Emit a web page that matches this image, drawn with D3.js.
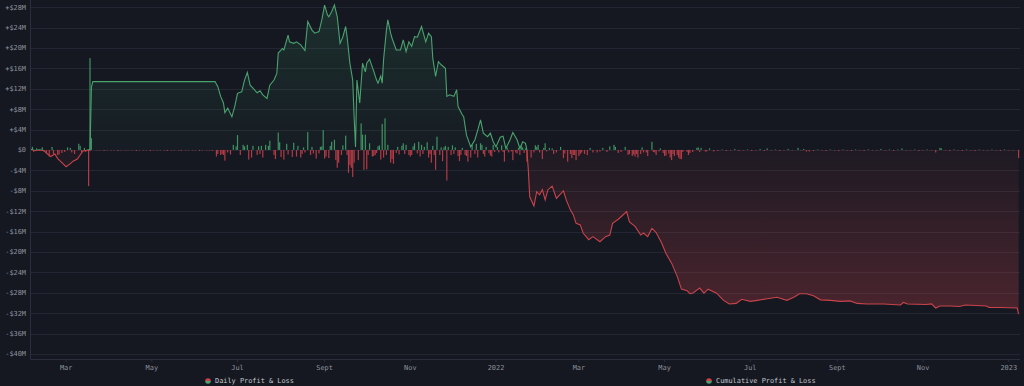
<!DOCTYPE html>
<html><head><meta charset="utf-8">
<script src="https://cdn.jsdelivr.net/npm/d3@7"></script>
<style>
html,body{margin:0;padding:0;background:#151821;}
svg{display:block;}
text{font-family:"DejaVu Sans Mono","Liberation Mono",monospace;}
</style></head><body>
<svg id="chart" width="1024" height="386"></svg>
<script>
// day offsets counted from 2021-02-01, values in $M
const startDate = new Date(2021, 1, 1);
const domainDays = [3, 707];
const yDomain = [-41, 29.4];

const cumulativePnl = [
 [3,0.1],[6,-0.1],[9,0.0],[12,-0.1],[14,-0.6],[17,-1.3],[20,-0.8],[22,-1.7],[25,-2.5],[28,-3.3],
 [31,-2.7],[33,-2.2],[36,-1.8],[38,-1.0],[40,-0.2],[42,-0.1],[44,0.0],[45,-0.1],[46,12.3],[47,13.4],
 [134,13.4],[136,12.4],[138,10.5],[140,9.2],[141,7.3],[143,8.2],[146,6.5],[148,8.5],[150,11.1],[153,11.4],
 [155,13.7],[157,15.2],[159,12.7],[161,12.1],[164,11.2],[166,11.6],[168,10.8],[171,10.1],[173,12.7],[176,13.7],
 [178,15.0],[179,19.0],[182,19.9],[183,19.6],[186,22.5],[187,21.2],[190,20.9],[192,21.2],[195,20.6],[198,19.5],
 [200,25.2],[203,23.5],[205,22.9],[208,23.2],[210,25.5],[212,28.4],[214,26.5],[215,26.1],[217,27.1],[219,28.4],
 [221,26.1],[223,20.9],[225,22.2],[227,24.2],[228,22.2],[230,17.0],[232,13.7],[233,6.5],[234,0.6],[235,13.7],
 [237,9.2],[239,17.0],[241,15.3],[242,17.0],[244,17.8],[247,15.4],[249,13.7],[250,13.1],[252,14.5],[253,13.1],
 [254,17.8],[256,23.5],[257,25.5],[259,22.9],[260,21.9],[263,19.6],[266,19.6],[268,21.6],[270,19.3],[272,21.2],
 [274,20.3],[276,22.2],[278,22.1],[281,24.2],[284,21.2],[286,22.9],[288,22.2],[289,18.0],[291,14.4],[293,17.3],
 [295,16.7],[298,16.0],[299,10.5],[301,10.8],[304,10.5],[306,11.8],[307,8.5],[310,6.9],[311,6.5],[313,2.9],
 [316,0.6],[319,2.0],[321,3.9],[323,5.9],[325,3.3],[328,2.6],[330,3.3],[332,1.6],[334,0.6],[337,2.5],
 [339,2.7],[341,0.3],[344,2.0],[346,3.4],[349,2.0],[351,0.3],[353,1.6],[355,1.3],[356,0.0],[357,-3.9],
 [358,-9.2],[361,-11.0],[363,-8.2],[365,-8.8],[367,-7.8],[369,-9.8],[371,-7.8],[374,-7.1],[377,-9.5],[380,-8.6],
 [382,-8.0],[384,-9.8],[387,-11.8],[389,-12.7],[391,-14.4],[394,-14.7],[396,-16.3],[400,-17.6],[403,-17.0],[408,-18.0],
 [412,-17.0],[415,-16.7],[417,-14.4],[421,-13.6],[423,-13.1],[427,-12.1],[429,-14.1],[433,-15.0],[437,-16.7],[439,-16.3],
 [442,-17.0],[445,-15.4],[448,-16.2],[452,-18.3],[455,-20.3],[459,-22.2],[463,-24.8],[466,-27.3],[470,-27.6],[472,-28.2],
 [474,-28.1],[479,-27.1],[482,-28.1],[485,-27.3],[491,-28.1],[496,-29.5],[500,-30.2],[505,-30.1],[509,-29.3],[515,-29.7],
 [520,-29.5],[527,-29.2],[534,-28.9],[541,-29.5],[546,-28.9],[550,-28.2],[555,-28.2],[560,-28.6],[565,-29.4],[572,-29.5],
 [579,-29.7],[586,-29.6],[591,-30.1],[598,-30.2],[610,-30.2],[622,-30.4],[624,-29.9],[627,-30.2],[640,-30.3],[644,-30.2],
 [647,-31.0],[650,-30.6],[657,-30.6],[664,-30.7],[668,-30.4],[676,-30.5],[683,-30.6],[685,-30.9],[693,-30.9],[705,-31.0],
 [706,-32.2]
];

const dailyPnl = [
 [4,0.6],[5,-0.4],[7,0.3],[11,0.5],[12,-0.3],[14,-0.6],[16,-1.3],[18,0.6],[19,-0.8],[22,-1.0],[23,-0.9],[25,-0.6],
 [27,-0.4],[29,0.5],[31,0.4],[32,-0.5],[34,-0.8],[37,1.2],[38,0.8],[39,-0.5],[41,0.4],[42,-0.4],[44,-7.1],[45,18.0],[46,2.3],
 [50,-0.1],[52,-0.1],[55,-0.2],[57,-0.1],[60,-0.1],[62,-0.1],[65,-0.2],[67,-0.1],[70,-0.1],[72,-0.1],[75,-0.1],[78,-0.2],
 [80,-0.1],[83,-0.1],[85,-0.1],[88,-0.2],[90,-0.1],[93,-0.1],[95,-0.1],[98,-0.1],[100,-0.2],[103,-0.1],[105,-0.1],[108,-0.1],
 [110,-0.2],[113,-0.1],[115,-0.1],[118,-0.1],[120,-0.1],[123,-0.2],[125,-0.1],[128,-0.1],[130,-0.1],[132,-0.2],
 [135,-1.3],[136,-0.8],[138,-1.0],[139,-0.8],[140,-1.0],[141,-2.1],[143,-0.5],[145,-0.9],[147,1.0],[149,0.7],[150,2.9],[152,-1.0],
 [154,1.0],[155,0.7],[157,1.0],[158,-1.9],[160,-1.5],[161,0.8],[164,-1.0],[165,0.7],[166,-0.8],[167,0.8],[168,-1.5],[170,1.0],
 [172,0.8],[173,1.8],[176,-1.0],[177,-1.8],[179,3.4],[180,1.5],[181,-1.4],[183,-1.9],[185,1.2],[186,-0.9],[189,-1.4],[190,1.4],
 [192,-1.3],[193,0.8],[195,-1.5],[196,-0.8],[197,0.5],[198,-0.5],[200,3.5],[202,-1.0],[203,0.6],[204,-0.7],[206,-1.7],[208,-0.7],
 [209,0.6],[210,0.7],[211,3.9],[212,-1.7],[213,-1.3],[215,-1.6],[216,0.8],[217,1.6],[219,2.0],[220,-2.0],[221,-3.5],[222,-2.5],
 [224,-1.0],[225,0.9],[227,2.8],[228,-1.0],[229,-4.5],[230,-3.0],[231,-3.5],[232,-5.3],[233,-2.5],[236,-2.0],[238,5.2],[239,3.0],
 [240,-3.9],[241,3.0],[242,-3.8],[243,-1.0],[244,1.3],[246,-1.3],[247,-1.2],[248,-1.0],[249,-0.6],[250,0.7],[251,0.9],[252,-1.9],
 [253,5.1],[254,-1.5],[255,6.2],[256,-1.0],[257,1.0],[259,-2.5],[260,-1.8],[261,-2.7],[263,-0.6],[264,0.6],[265,-0.9],[267,0.8],
 [268,1.3],[269,-0.8],[270,1.0],[272,-1.0],[273,-1.3],[274,-1.0],[275,0.7],[276,1.3],[278,-0.7],[279,1.6],[280,-1.3],[281,1.0],
 [282,-0.8],[283,0.6],[285,1.5],[286,-1.5],[287,-0.8],[288,-2.5],[289,0.8],[290,-1.0],[291,-3.9],[292,2.6],[294,-1.0],[295,0.5],
 [296,-2.2],[297,0.5],[298,0.8],[299,-6.0],[300,0.6],[302,-1.0],[303,0.9],[304,-0.8],[305,0.5],[307,-1.2],[308,-2.2],[309,-1.0],
 [310,0.4],[312,-1.0],[313,-1.2],[314,-2.3],[316,-1.5],[317,1.0],[319,-0.8],[320,1.2],[321,-1.5],[323,1.3],[324,1.0],[325,-0.8],
 [326,-1.3],[327,0.6],[329,-0.6],[330,-1.1],[331,-1.3],[332,1.0],[333,-0.4],[335,0.6],[336,-0.5],[338,0.9],[339,-0.4],[340,-2.3],
 [342,0.5],[343,-0.5],[345,-0.3],[346,-2.0],[348,-0.5],[349,-0.7],[350,0.4],[351,-1.0],[352,0.9],[353,0.5],[354,-0.6],[355,0.3],
 [356,-2.3],[359,-1.5],[361,-0.5],[362,0.9],[363,0.6],[364,1.0],[365,-0.5],[367,-1.8],[368,0.4],[369,1.3],[370,-0.3],[372,0.4],
 [374,0.3],[375,-0.8],[377,-0.5],[380,0.6],[382,-1.6],[383,-0.7],[385,-2.3],[387,-0.8],[388,-1.6],[389,-1.0],[390,-1.0],[391,-2.0],
 [393,-1.2],[394,-0.8],[395,-0.5],[397,-0.8],[399,-1.0],[401,0.4],[403,-0.5],[406,-0.5],[408,-0.3],[410,0.4],[413,-0.4],[415,0.7],
 [418,1.0],[419,0.6],[421,-0.6],[423,-0.4],[426,0.6],[428,-1.0],[429,-0.8],[431,-1.2],[432,-0.9],[433,-1.3],[434,-0.8],[435,-1.5],
 [437,-0.8],[438,0.5],[439,-0.5],[441,-0.5],[442,-1.2],[445,1.6],[446,-0.4],[447,-0.5],[448,-1.0],[450,-0.3],[451,0.3],[453,-0.6],
 [454,-1.2],[455,-1.1],[457,-0.7],[458,-1.5],[459,-2.0],[460,-0.8],[461,-1.2],[463,-1.0],[464,-1.5],[465,-1.8],[466,-1.8],[467,-0.4],
 [470,-0.4],[471,-1.0],[472,-0.6],[474,-0.4],[477,0.4],[478,0.5],[479,-0.4],[480,0.4],[483,-0.3],[484,-0.3],[486,0.3],[489,-0.3],
 [492,-0.2],[495,0.1],[498,-0.2],[501,-0.1],[504,0.2],[507,-0.2],[510,-0.1],[513,0.1],[516,-0.2],[519,-0.1],[522,0.2],[525,-0.2],
 [527,0.3],[530,-0.1],[533,0.1],[536,-0.2],[539,-0.1],[542,0.2],[545,-0.1],[549,0.4],[551,-0.1],[553,0.2],[555,-0.3],[557,-0.3],
 [560,-0.2],[563,0.1],[566,-0.1],[569,-0.2],[572,0.1],[575,-0.1],[578,-0.2],[581,0.1],[584,-0.1],[587,-0.2],[590,0.1],[593,-0.1],
 [596,-0.2],[599,0.1],[602,-0.1],[605,-0.1],[608,0.2],[611,-0.1],[614,0.1],[617,-0.2],[620,0.1],[623,0.3],[626,-0.1],[629,-0.1],
 [632,0.1],[635,-0.2],[638,-0.1],[641,0.1],[644,-0.1],[647,-0.5],[650,0.4],[651,0.3],[654,-0.1],[657,-0.2],[660,0.1],[663,-0.1],
 [666,-0.2],[669,0.1],[672,-0.1],[675,-0.2],[678,0.1],[681,-0.1],[684,-0.1],[687,0.1],[690,-0.1],[693,-0.2],[696,0.1],[699,-0.1],
 [702,-0.1],[706,-1.6]
];

const yTicks = [-40,-36,-32,-28,-24,-20,-16,-12,-8,-4,0,4,8,12,16,20,24,28];
const monthNames = ["Jan","Feb","Mar","Apr","May","Jun","Jul","Aug","Sept","Oct","Nov","Dec"];
const legendLabels = ["Daily Profit & Loss", "Cumulative Profit & Loss"];

const colors = {
  bg: "#151821", grid: "#232733", axis: "#2a2f3d", text: "#8e939c", legend: "#c3c6cc",
  green: "#4aa26e", greenBar: "#3f9362", red: "#c9434b", redBar: "#b23b46"
};

const W = 1024, H = 386;
const m = {left: 31, right: 4, top: 0, bottom: 27};
const dayToDate = d => d3.timeDay.offset(startDate, d);

const svg = d3.select("#chart");
svg.append("rect").attr("width", W).attr("height", H).attr("fill", colors.bg);

const x = d3.scaleTime()
  .domain(domainDays.map(dayToDate))
  .range([m.left, W - m.right]);
const y = d3.scaleLinear().domain(yDomain).range([H - m.bottom, m.top]);

const defs = svg.append("defs");
const gG = defs.append("linearGradient").attr("id","gGreen").attr("gradientUnits","userSpaceOnUse")
  .attr("x1",0).attr("x2",0).attr("y1",y(28)).attr("y2",y(0));
gG.append("stop").attr("offset",0).attr("stop-color","#3fa06a").attr("stop-opacity",0.17);
gG.append("stop").attr("offset",1).attr("stop-color","#3fa06a").attr("stop-opacity",0.03);
const gR = defs.append("linearGradient").attr("id","gRed").attr("gradientUnits","userSpaceOnUse")
  .attr("x1",0).attr("x2",0).attr("y1",y(0)).attr("y2",y(-32));
gR.append("stop").attr("offset",0).attr("stop-color","#c8414b").attr("stop-opacity",0.05);
gR.append("stop").attr("offset",1).attr("stop-color","#c8414b").attr("stop-opacity",0.3);
const gL = defs.append("linearGradient").attr("id","gLegend").attr("x1",0).attr("x2",0).attr("y1",0).attr("y2",1);
gL.append("stop").attr("offset",0.5).attr("stop-color",colors.red);
gL.append("stop").attr("offset",0.5).attr("stop-color",colors.green);

defs.append("clipPath").attr("id","clipPos").append("rect")
  .attr("x", m.left).attr("y", m.top).attr("width", W - m.left - m.right).attr("height", y(0) - m.top);
defs.append("clipPath").attr("id","clipNeg").append("rect")
  .attr("x", m.left).attr("y", y(0)).attr("width", W - m.left - m.right).attr("height", H - m.bottom - y(0));

// grid
svg.append("g").selectAll("line").data(yTicks).join("line")
  .attr("x1", m.left).attr("x2", W - m.right)
  .attr("y1", d => Math.round(y(d)) + 0.5).attr("y2", d => Math.round(y(d)) + 0.5)
  .attr("stroke", colors.grid).attr("stroke-width", 1);

// y labels
const fmtY = v => v === 0 ? "$0" : (v > 0 ? "+$" : "-$") + Math.abs(v) + "M";
svg.append("g").selectAll("text").data(yTicks).join("text")
  .attr("x", 26).attr("y", d => y(d)).attr("dy", "0.35em")
  .attr("text-anchor", "end").attr("font-size", 6.9).attr("fill", colors.text)
  .text(fmtY);

// axis lines
svg.append("line").attr("x1", m.left - 0.5).attr("x2", m.left - 0.5).attr("y1", m.top).attr("y2", H - m.bottom)
  .attr("stroke", colors.axis);
svg.append("line").attr("x1", m.left - 0.5).attr("x2", W - m.right).attr("y1", H - m.bottom + 0.5).attr("y2", H - m.bottom + 0.5)
  .attr("stroke", colors.axis);

// x ticks
const xTickVals = d3.timeMonth.every(2).range(dayToDate(domainDays[0]), dayToDate(domainDays[1]));
const fmtX = d => d.getMonth() === 0 ? String(d.getFullYear()) : monthNames[d.getMonth()];
const xt = svg.append("g").selectAll("g").data(xTickVals).join("g")
  .attr("transform", d => `translate(${x(d)},0)`);
xt.append("line").attr("y1", H - m.bottom + 1).attr("y2", H - m.bottom + 3).attr("stroke", colors.axis);
xt.append("text").attr("y", 368).attr("dy","0.35em").attr("text-anchor","middle")
  .attr("font-size", 6.9).attr("fill", colors.text).text(fmtX);

// cumulative area
const cum = cumulativePnl.map(([d, v]) => ({date: dayToDate(d), v}));
const area = d3.area().x(d => x(d.date)).y0(y(0)).y1(d => y(d.v));
const line = d3.line().x(d => x(d.date)).y(d => y(d.v));
svg.append("path").datum(cum).attr("d", area).attr("fill", "url(#gGreen)").attr("clip-path","url(#clipPos)");
svg.append("path").datum(cum).attr("d", area).attr("fill", "url(#gRed)").attr("clip-path","url(#clipNeg)");

// daily bars
const daily = dailyPnl.map(([d, v]) => ({date: dayToDate(d), v}));
svg.append("g").selectAll("rect").data(daily).join("rect")
  .attr("x", d => x(d.date) - 0.6).attr("width", 1.2)
  .attr("y", d => Math.min(y(d.v), y(0)))
  .attr("height", d => Math.abs(y(d.v) - y(0)))
  .attr("fill", d => d.v >= 0 ? colors.greenBar : colors.redBar);

// cumulative line
svg.append("path").datum(cum).attr("d", line).attr("fill","none").attr("stroke", colors.green)
  .attr("stroke-width", 1.1).attr("clip-path","url(#clipPos)");
svg.append("path").datum(cum).attr("d", line).attr("fill","none").attr("stroke", colors.red)
  .attr("stroke-width", 1.1).attr("clip-path","url(#clipNeg)");

// legend
const legendX = [208, 709];
const lg = svg.append("g").selectAll("g").data(legendLabels).join("g")
  .attr("transform", (d, i) => `translate(${legendX[i]},381)`);
lg.append("circle").attr("r", 2.8).attr("fill", "url(#gLegend)");
lg.append("text").attr("x", 7).attr("dy", "0.35em").attr("font-size", 6.9).attr("fill", colors.legend).text(d => d);
</script>
</body></html>
